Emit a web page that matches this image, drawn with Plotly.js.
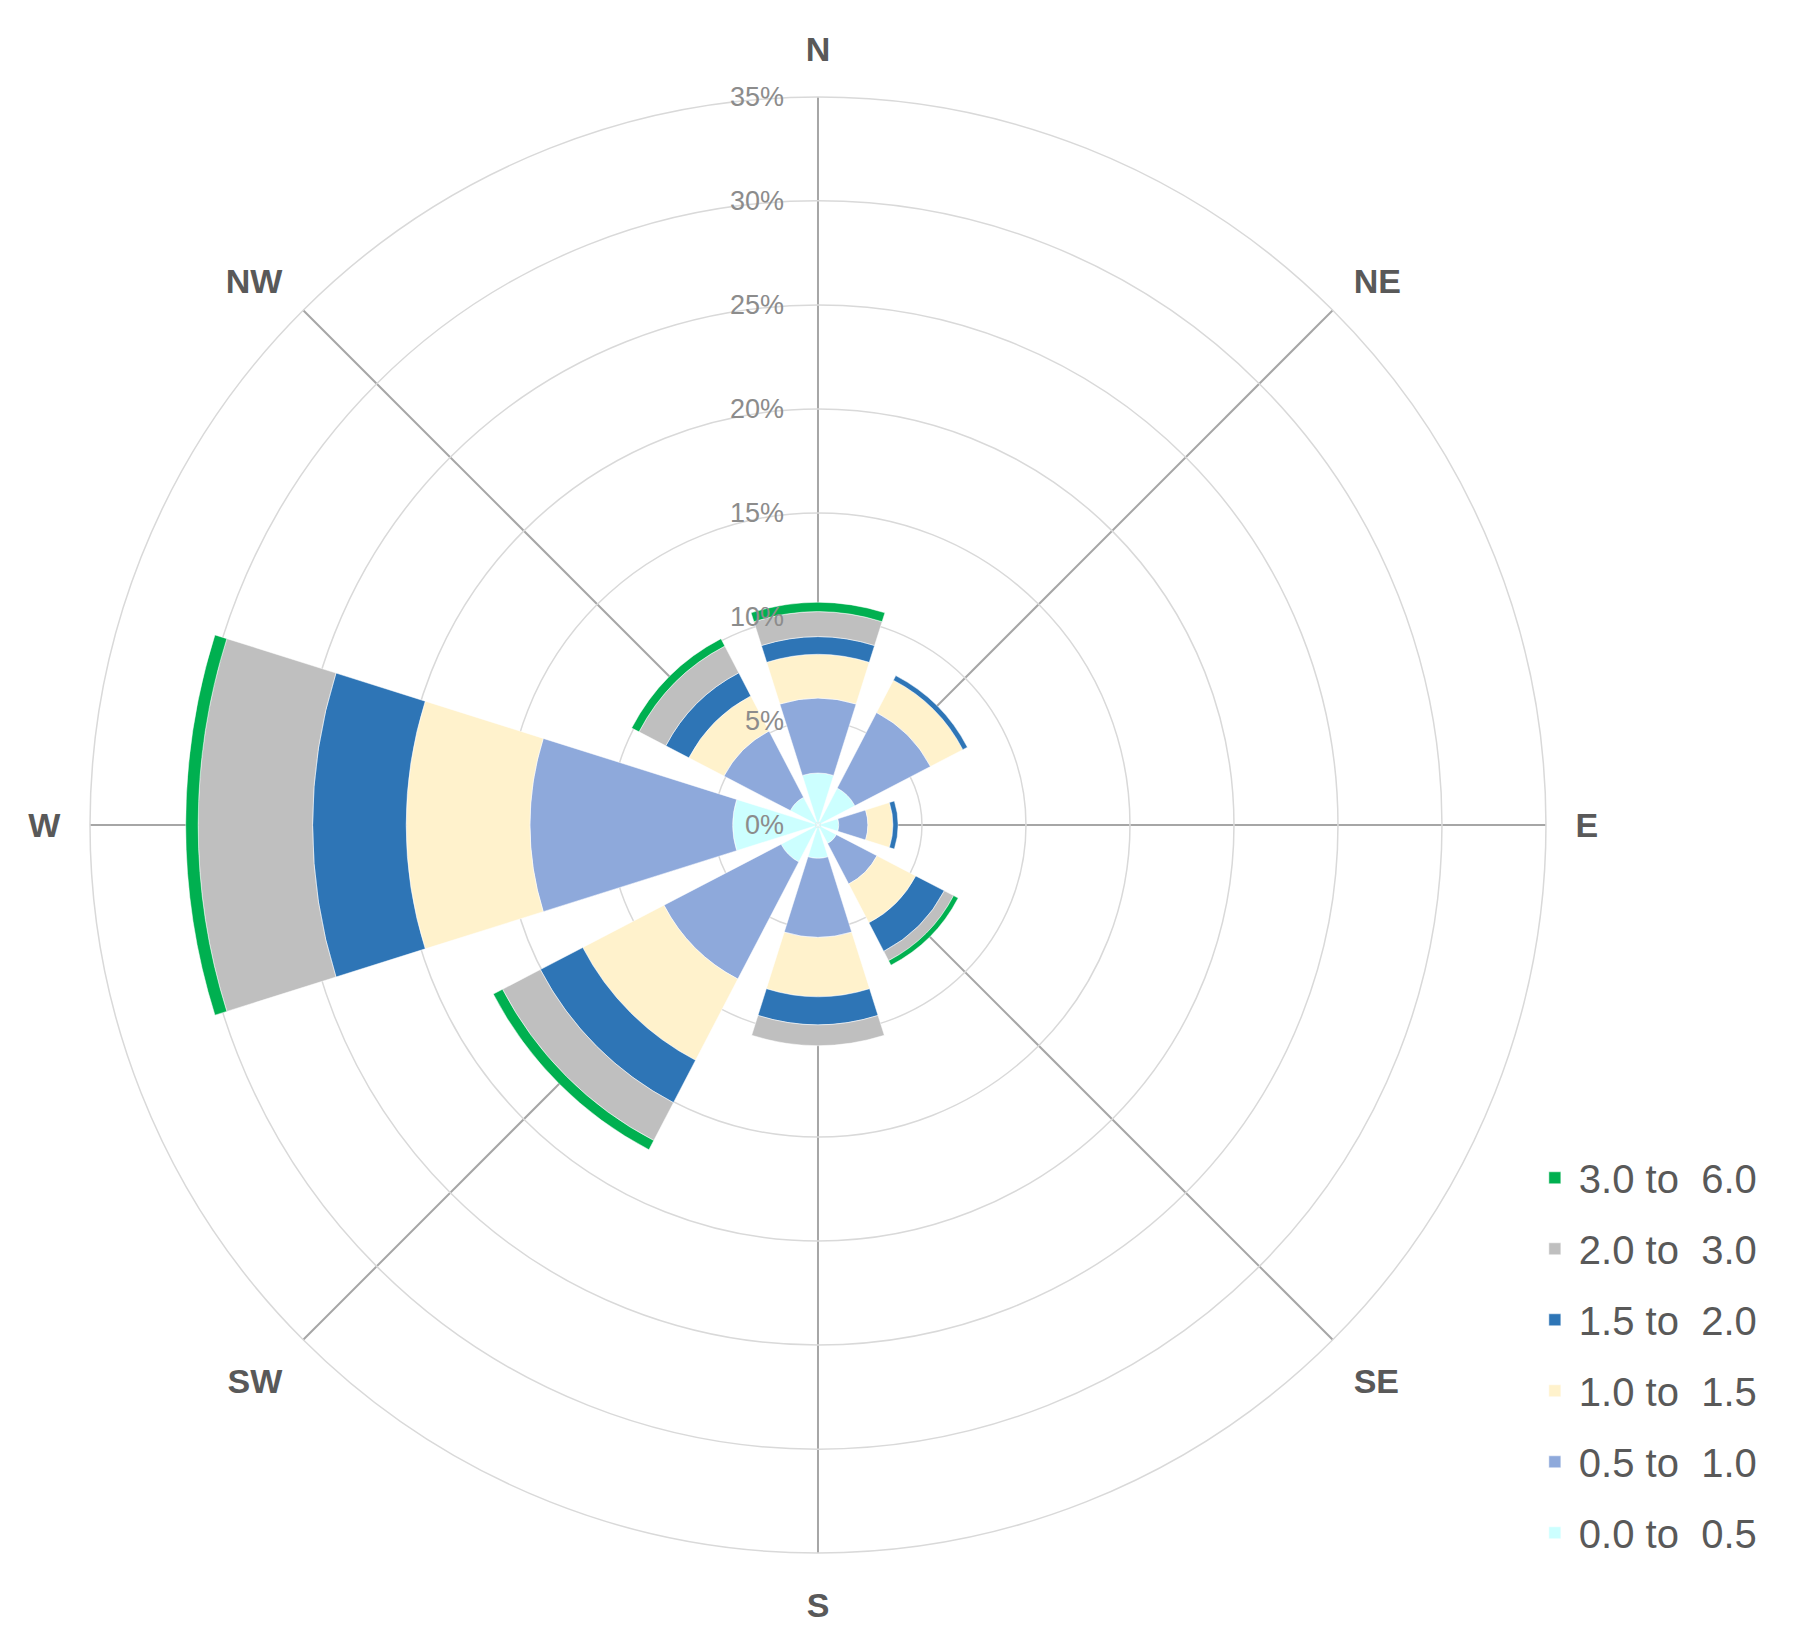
<!DOCTYPE html>
<html>
<head>
<meta charset="utf-8">
<script src="https://cdn.plot.ly/plotly-3.0.1.min.js"></script>
<style>
  html, body { margin: 0; padding: 0; background: #fff; }
  #rose { width: 1801px; height: 1642px; }
</style>
</head>
<body>
<div id="rose"></div>
<script>
// wind directions (compass degrees) and labels
const directions = ['N', 'NE', 'E', 'SE', 'S', 'SW', 'W', 'NW'];
const angles = [0, 45, 90, 135, 180, 225, 270, 315];

// frequency (%) per speed bin, one value per direction
const bin00_05 = [2.5, 2.0, 1.0, 1.0, 1.6, 2.0, 4.1, 1.5];
const bin05_10 = [3.6, 4.1, 1.4, 2.2, 3.8, 6.35, 9.75, 3.6];
const bin10_15 = [2.1, 1.75, 1.2, 2.1, 2.85, 4.4, 5.95, 1.9];
const bin15_20 = [0.85, 0.25, 0.25, 1.55, 1.35, 2.3, 4.5, 1.25];
const bin20_30 = [1.2, 0, 0, 0.5, 1.0, 2.05, 5.5, 1.45];
const bin30_60 = [0.45, 0, 0, 0.25, 0, 0.5, 0.6, 0.4];

const binNames = ['0.0 to\u00a0 0.5', '0.5 to\u00a0 1.0', '1.0 to\u00a0 1.5',
                  '1.5 to\u00a0 2.0', '2.0 to\u00a0 3.0', '3.0 to\u00a0 6.0'];
const binValues = [bin00_05, bin05_10, bin10_15, bin15_20, bin20_30, bin30_60];
const binColors = ['#CCFFFF', '#8EA9DB', '#FFF2CC', '#2E75B6', '#BFBFBF', '#00B050'];

const radialTicks = [0, 5, 10, 15, 20, 25, 30, 35];

// inner bins first so they stack from the centre; legend lists fastest first
const data = binValues.map((vals, i) => ({
  type: 'barpolar',
  r: vals,
  theta: angles,
  width: 35,
  name: binNames[i],
  legendgroup: 'g' + i,
  legendrank: binValues.length - i,
  marker: { color: binColors[i], line: { color: 'rgba(255,255,255,0.5)', width: 1 } },
  hoverinfo: 'skip'
}));

const layout = {
  width: 1801,
  height: 1642,
  margin: { l: 0, r: 0, t: 0, b: 0 },
  paper_bgcolor: '#fff',
  font: { family: 'Liberation Sans, Arial, sans-serif' },
  showlegend: true,
  legend: {
    x: 0.850, y: 0.3025, xanchor: 'left', yanchor: 'top',
    traceorder: 'grouped',
    tracegroupgap: 16,
    itemwidth: 38,
    font: { size: 40, color: '#595959' },
    bgcolor: 'rgba(0,0,0,0)'
  },
  polar: {
    domain: { x: [0.04997, 0.8584], y: [0.0542, 0.9409] },
    bgcolor: '#fff',
    barmode: 'stack',
    bargap: 0,
    radialaxis: {
      range: [0, 35],
      tickvals: radialTicks,
      ticktext: radialTicks.map(v => v + '%'),
      angle: 90,
      tickangle: 90,
      side: 'counterclockwise',
      showline: false,
      ticks: 'outside',
      ticklen: 24,
      tickcolor: 'rgba(0,0,0,0)',
      gridcolor: '#D9D9D9',
      gridwidth: 1.5,
      tickfont: { size: 27, color: '#8C8C8C' },
      layer: 'above traces'
    },
    angularaxis: {
      direction: 'clockwise',
      rotation: 90,
      tickvals: angles,
      ticktext: directions,
      ticks: 'outside',
      ticklen: 22,
      tickcolor: 'rgba(0,0,0,0)',
      showgrid: true,
      gridcolor: '#A6A6A6',
      gridwidth: 2,
      showline: true,
      linecolor: '#D9D9D9',
      linewidth: 1.5,
      tickfont: { size: 34, color: '#595959', weight: 'bold' }
    }
  }
};

Plotly.newPlot('rose', data, layout, { displayModeBar: false, staticPlot: true });
</script>
</body>
</html>
